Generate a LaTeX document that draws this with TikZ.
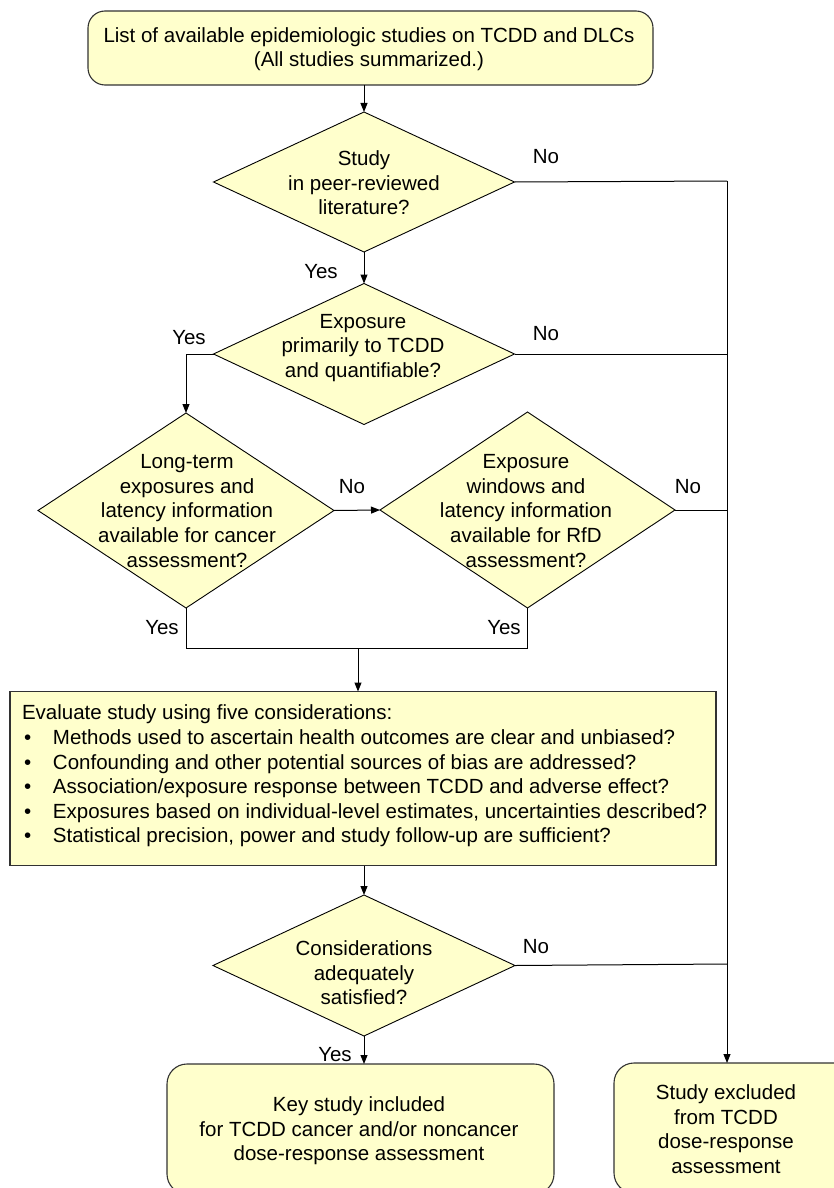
\documentclass[tikz,border=0pt]{standalone}
\usepackage{fontspec}
\setmainfont{Liberation Sans}
\usetikzlibrary{shapes.geometric,arrows.meta}
\definecolor{boxfill}{RGB}{255,255,204}
\definecolor{boxline}{RGB}{50,50,50}
\begin{document}
\begin{tikzpicture}[x=1pt,y=-1pt,
  every node/.style={font=\fontsize{20.5}{24.6}\selectfont, inner sep=0pt, outer sep=0pt},
  rbox/.style={draw=boxline, fill=boxfill, line width=1.1pt, rounded corners=17pt, rectangle},
  pbox/.style={draw=boxline, fill=boxfill, line width=1.4pt, rectangle},
  dia/.style={draw=black, fill=boxfill, line width=0.9pt, diamond},
  txt/.style={align=center},
  lbl/.style={},
  conn/.style={line width=1pt, draw=black},
  arr/.style={conn, -{Triangle[length=9pt,width=7pt]}}
]
\useasboundingbox (0,0) rectangle (833,1188);

% boxes
\node[rbox, minimum width=565, minimum height=74] (top) at (370.5,48) {};
\node[txt] (toptxt) at (369,49) {List of available epidemiologic studies on TCDD and DLCs\\(All studies summarized.)};

\node[dia, minimum width=301, minimum height=140] (d1) at (364,182) {};
\node[txt] (d1t) at (364,183) {Study\\in peer-reviewed\\literature?};

\node[dia, minimum width=301, minimum height=141] (d2) at (364,354) {};
\node[txt] (d2t) at (363,348) {Exposure\\primarily to TCDD\\and quantifiable?};

\node[dia, minimum width=296, minimum height=195] (d3) at (186,510.5) {};
\node[txt] (d3t) at (187,511) {Long-term\\exposures and\\latency information\\available for cancer\\assessment?};

\node[dia, minimum width=295, minimum height=196] (d4) at (527.5,510) {};
\node[txt] (d4t) at (526,511) {Exposure\\windows and\\latency information\\available for RfD\\assessment?};

\node[pbox, minimum width=706, minimum height=174] (eval) at (363,778.5) {};
\node[align=left, anchor=north west] (evalt) at (22,705) {Evaluate study using five considerations:\\
\hspace*{2pt}\makebox[29pt][l]{•}Methods used to ascertain health outcomes are clear and unbiased?\\
\hspace*{2pt}\makebox[29pt][l]{•}Confounding and other potential sources of bias are addressed?\\
\hspace*{2pt}\makebox[29pt][l]{•}Association/exposure response between TCDD and adverse effect?\\
\hspace*{2pt}\makebox[29pt][l]{•}Exposures based on individual-level estimates, uncertainties described?\\
\hspace*{2pt}\makebox[29pt][l]{•}Statistical precision, power and study follow-up are sufficient?};

\node[dia, minimum width=302, minimum height=141] (d5) at (364,965.5) {};
\node[txt] (d5t) at (364,973) {Considerations\\adequately\\satisfied?};

\node[rbox, minimum width=387, minimum height=130, rounded corners=20pt] (key) at (360.5,1129) {};
\node[txt] (keyt) at (359,1131) {Key study included\\for TCDD cancer and/or noncancer\\dose-response assessment};

\node[rbox, minimum width=240, minimum height=130, rounded corners=20pt, anchor=north west] (exc) at (614,1063) {};
\node[txt] (exct) at (726,1129) {Study excluded\\from TCDD\\dose-response\\assessment};

% junction coordinates
\coordinate (r1) at (727,181);
\coordinate (r2) at (727,354);
\coordinate (r4) at (727,510);
\coordinate (r5) at (727,964);
\coordinate (l2) at (186,354);
\coordinate (jl) at (186,648);
\coordinate (jr) at (527.5,648);
\coordinate (jm) at (358,648);

% connectors
\draw[arr] (top.south -| d1.north) -- (d1.north);
\draw[arr] (d1.south) -- (d2.north);
\draw[conn] (d1.east) -- (r1);
\draw[arr] (r1) -- (r1 |- exc.north);
\draw[conn] (d2.east) -- (r2);
\draw[arr] (d2.west) -- (l2) -- (d3.north);
\draw[arr] (d3.east) -- (d4.west);
\draw[conn] (d4.east) -- (r4);
\draw[conn] (d3.south) -- (jl) -- (jr) -- (d4.south);
\draw[arr] (jm) -- (jm |- eval.north);
\draw[arr] (eval.south -| d5.north) -- (d5.north);
\draw[conn] (d5.east) -- (r5);
\draw[arr] (d5.south) -- (d5.south |- key.north);

% labels
\node[lbl] (y1) at (321,272) {Yes};
\node[lbl] (n1) at (546,157) {No};
\node[lbl] (y2) at (189,338) {Yes};
\node[lbl] (n2) at (546,334) {No};
\node[lbl] (n3) at (352,487) {No};
\node[lbl] (n4) at (688,487) {No};
\node[lbl] (y3) at (162,628) {Yes};
\node[lbl] (y4) at (504,628) {Yes};
\node[lbl] (n5) at (536,947) {No};
\node[lbl] (y5) at (335,1055) {Yes};
\end{tikzpicture}
\end{document}
